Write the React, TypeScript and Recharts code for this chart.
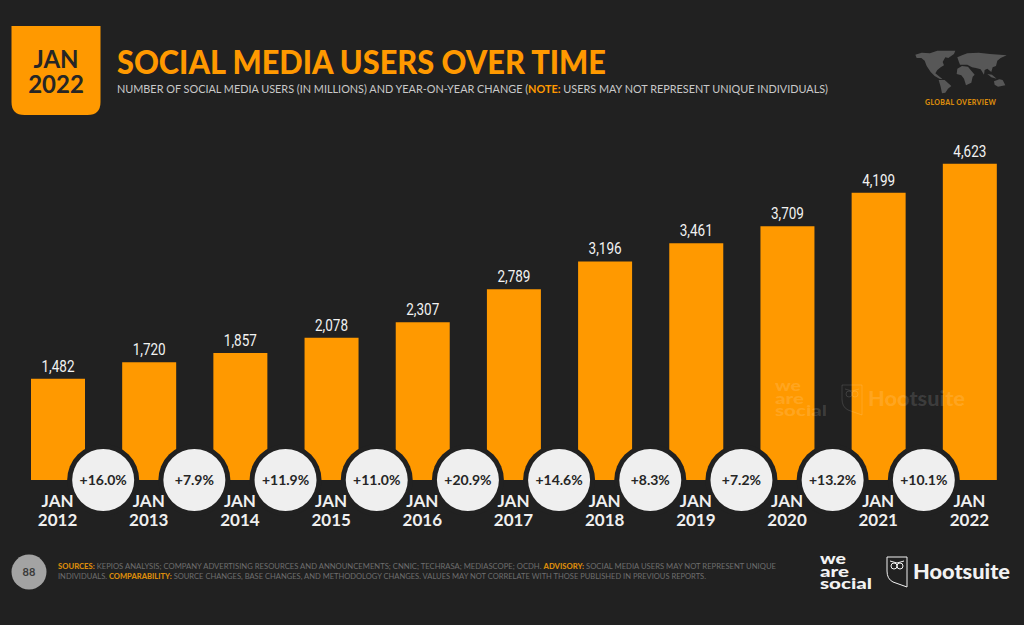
import { Bar, ComposedChart, LabelList, Scatter, XAxis, YAxis } from "recharts"

const years = ["2012", "2013", "2014", "2015", "2016", "2017", "2018", "2019", "2020", "2021", "2022"]
const users = [1482, 1720, 1857, 2078, 2307, 2789, 3196, 3461, 3709, 4199, 4623]
const growth = ["+16.0%", "+7.9%", "+11.9%", "+11.0%", "+20.9%", "+14.6%", "+8.3%", "+7.2%", "+13.2%", "+10.1%"]

const ORANGE = "#ff9900"
const BG = "#212121"
const FONT = "Lato, sans-serif"

const rows = years.map((year, i) => ({ year, users: users[i] }))
// each bubble sits on the boundary between two years
const growthRows = growth.map((label, i) => ({ slot: i + 1, base: 0, label }))

function YearTick({ x, y, payload }: any) {
  return (
    <g fill="#efefef" fontFamily={FONT} fontWeight={700} fontSize={17} textAnchor="middle">
      <text x={x} y={y + 19}>JAN</text>
      <text x={x} y={y + 38}>{payload.value}</text>
    </g>
  )
}

function GrowthBubble({ cx, cy, payload }: any) {
  return (
    <g>
      <circle cx={cx} cy={cy} r={36} fill={BG} />
      <circle cx={cx} cy={cy} r={31} fill="#efefef" />
      <text x={cx} y={cy + 5} textAnchor="middle" fontFamily={FONT} fontWeight={700} fontSize={14} fill="#262626">
        {payload.label}
      </text>
    </g>
  )
}

// value labels are set in a condensed face in the original
function ValueLabel({ x, y, width, value }: any) {
  const text = Number(value).toLocaleString("en-US")
  return (
    <text
      x={x + width / 2}
      y={y - 7}
      textAnchor="middle"
      fill="#f2f2f2"
      fontFamily="Roboto, sans-serif"
      fontWeight={400}
      fontSize={16}
      textLength={33}
      lengthAdjust="spacingAndGlyphs"
    >
      {text}
    </text>
  )
}

function Shield({ x, y, color }: { x: number; y: number; color: string }) {
  return (
    <g transform={`translate(${x},${y})`} fill="none" stroke={color} strokeWidth={1}>
      <path d="M0 0 H20 V30 L6 25 Q0 22 0 14 Z" />
      <circle cx={7} cy={9} r={3} />
      <circle cx={13} cy={9} r={3} />
      <path d="M3 4 L10 6 L17 4" />
    </g>
  )
}

function WeAreSocial({ x, y, color }: { x: number; y: number; color: string }) {
  return (
    <g fill={color} fontFamily={FONT} fontWeight={900} fontSize={15}>
      <text x={x} y={y} textLength={26} lengthAdjust="spacingAndGlyphs">we</text>
      <text x={x} y={y + 12.5} textLength={29} lengthAdjust="spacingAndGlyphs">are</text>
      <text x={x} y={y + 25} textLength={52} lengthAdjust="spacingAndGlyphs">social</text>
    </g>
  )
}

function Overlay() {
  return (
    <svg width={1024} height={625} style={{ position: "absolute", left: 0, top: 0, pointerEvents: "none" }}>
      <path d="M11.5 26 H100.5 V102 Q100.5 115 87.5 115 H24.5 Q11.5 115 11.5 102 Z" fill={ORANGE} />
      <g fill="#262626" fontFamily={FONT} fontWeight={700} fontSize={24} textAnchor="middle">
        <text x={56} y={68}>JAN</text>
        <text x={56} y={93}>2022</text>
      </g>
      <text x={117} y={73.5} fill={ORANGE} fontFamily={FONT} fontWeight={900} fontSize={33} textLength={489} lengthAdjust="spacingAndGlyphs">
        SOCIAL MEDIA USERS OVER TIME
      </text>
      <text x={117} y={93} fill="#c9c9c9" fontFamily={FONT} fontSize={11.5} textLength={711} lengthAdjust="spacingAndGlyphs">
        NUMBER OF SOCIAL MEDIA USERS (IN MILLIONS) AND YEAR-ON-YEAR CHANGE (<tspan fill={ORANGE} fontWeight={700}>NOTE:</tspan> USERS MAY NOT REPRESENT UNIQUE INDIVIDUALS)
      </text>

      <g transform="translate(880,30) scale(0.3333)" fill="#575757">
        <polygon points="106,74 125,68 150,70 172,62 226,62 222,72 205,84 196,82 188,96 192,106 182,112 172,120 166,130 176,138 188,148 178,146 164,138 152,126 140,108 134,92 124,84 110,84" />
        <polygon points="176,150 194,150 214,168 204,176 196,188 186,190 182,170" />
        <polygon points="232,116 246,108 264,110 270,118 284,134 278,140 274,158 258,166 252,146 244,136 230,132" />
        <polygon points="232,82 246,76 262,70 296,68 330,72 380,76 362,84 352,92 348,108 338,112 334,126 322,116 314,120 312,134 302,118 288,114 276,112 262,104 240,104 236,94" />
        <polygon points="322,132 336,134 350,146 334,142" />
        <polygon points="342,154 358,148 368,150 376,166 354,170 344,164" />
      </g>
      <text x={960.5} y={105} fill="#d98a0c" fontFamily={FONT} fontWeight={900} fontSize={7} textAnchor="middle" textLength={71}>
        GLOBAL OVERVIEW
      </text>

      <WeAreSocial x={775} y={391} color="rgba(255,255,255,0.13)" />
      <Shield x={842} y={385} color="rgba(255,255,255,0.13)" />
      <text x={868} y={406} fill="rgba(255,255,255,0.13)" fontFamily={FONT} fontWeight={900} fontSize={21} textLength={97} lengthAdjust="spacingAndGlyphs">
        Hootsuite
      </text>

      <circle cx={29} cy={572} r={17.5} fill="#a3a3a3" />
      <text x={29} y={576} textAnchor="middle" fill="#3a3a3a" fontFamily={FONT} fontWeight={700} fontSize={11}>88</text>
      <g fontFamily={FONT} fontSize={7.3} fill="#6e6e6e">
        <text x={58} y={568.5} textLength={718} lengthAdjust="spacingAndGlyphs">
          <tspan fill="#d98a0c" fontWeight={900}>SOURCES:</tspan> KEPIOS ANALYSIS; COMPANY ADVERTISING RESOURCES AND ANNOUNCEMENTS; CNNIC; TECHRASA; MEDIASCOPE; OCDH.{" "}
          <tspan fill="#d98a0c" fontWeight={900}>ADVISORY:</tspan> SOCIAL MEDIA USERS MAY NOT REPRESENT UNIQUE
        </text>
        <text x={58} y={579} textLength={648} lengthAdjust="spacingAndGlyphs">
          INDIVIDUALS. <tspan fill="#d98a0c" fontWeight={900}>COMPARABILITY:</tspan> SOURCE CHANGES, BASE CHANGES, AND METHODOLOGY CHANGES. VALUES MAY NOT CORRELATE WITH THOSE PUBLISHED IN PREVIOUS REPORTS.
        </text>
      </g>

      <WeAreSocial x={820} y={564} color="#f2f2f2" />
      <Shield x={887} y={557} color="#f2f2f2" />
      <text x={913} y={579} fill="#f2f2f2" fontFamily={FONT} fontWeight={900} fontSize={21} textLength={97} lengthAdjust="spacingAndGlyphs">
        Hootsuite
      </text>
    </svg>
  )
}

export default function App() {
  return (
    <div style={{ position: "absolute", left: 0, top: 0, width: 1024, height: 625, background: BG, overflow: "hidden" }}>
      <ComposedChart width={1024} height={625} data={rows} margin={{ top: 138, right: 9, bottom: 0, left: 12 }}>
        <XAxis dataKey="year" axisLine={false} tickLine={false} tick={<YearTick />} interval={0} height={145} />
        <XAxis xAxisId="growth" dataKey="slot" type="number" domain={[0, 11]} hide />
        <YAxis domain={[0, 5000]} hide />
        <YAxis yAxisId="growth" dataKey="base" domain={[0, 1]} hide />
        <Bar dataKey="users" fill={ORANGE} barSize={54} isAnimationActive={false}>
          <LabelList dataKey="users" content={<ValueLabel />} />
        </Bar>
        <Scatter
          data={growthRows}
          xAxisId="growth"
          yAxisId="growth"
          dataKey="base"
          shape={<GrowthBubble />}
          isAnimationActive={false}
        />
      </ComposedChart>
      <Overlay />
    </div>
  )
}
